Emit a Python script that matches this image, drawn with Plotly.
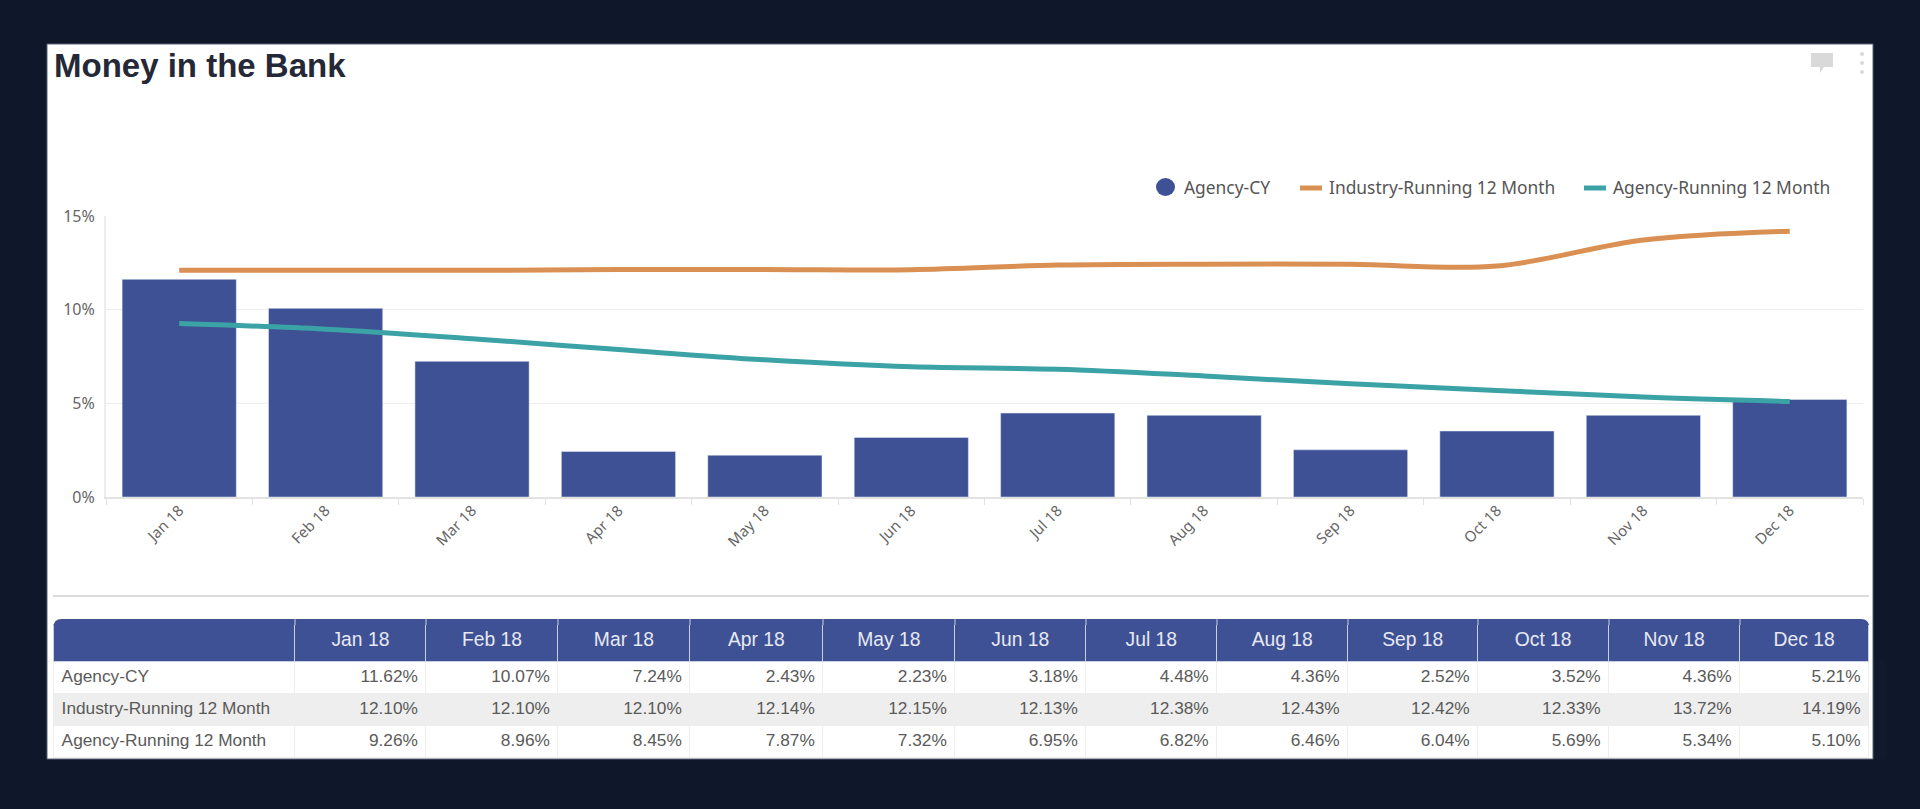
import plotly.graph_objects as go

W, H = 1920, 809
months = ["Jan 18", "Feb 18", "Mar 18", "Apr 18", "May 18", "Jun 18",
          "Jul 18", "Aug 18", "Sep 18", "Oct 18", "Nov 18", "Dec 18"]
agency_cy = [11.62, 10.07, 7.24, 2.43, 2.23, 3.18, 4.48, 4.36, 2.52, 3.52, 4.36, 5.21]
industry_r12 = [12.10, 12.10, 12.10, 12.14, 12.15, 12.13, 12.38, 12.43, 12.42, 12.33, 13.72, 14.19]
agency_r12 = [9.26, 8.96, 8.45, 7.87, 7.32, 6.95, 6.82, 6.46, 6.04, 5.69, 5.34, 5.10]
series_names = ["Agency-CY", "Industry-Running 12 Month", "Agency-Running 12 Month"]
y_ticks = [0, 5, 10, 15]

BLUE, ORANGE, TEAL = "#3F5195", "#DB9053", "#3BA2A6"
BG = "#0F172A"
HEADER_LINE = "#C9CEE0"

def fx(p): return p / W
def fy(p): return 1 - p / H

fig = go.Figure()
fig.add_trace(go.Bar(x=months, y=agency_cy, name=series_names[0], marker_color=BLUE, showlegend=False))
fig.add_trace(go.Scatter(x=months, y=industry_r12, name=series_names[1], mode="lines", showlegend=False,
                         line=dict(color=ORANGE, width=5, shape="spline", smoothing=1.0)))
fig.add_trace(go.Scatter(x=months, y=agency_r12, name=series_names[2], mode="lines", showlegend=False,
                         line=dict(color=TEAL, width=5, shape="spline", smoothing=1.0)))

def fmt(vals): return [f"{v:.2f}%" for v in vals]
col_vals = [series_names] + [
    [fmt(agency_cy)[i], fmt(industry_r12)[i], fmt(agency_r12)[i]] for i in range(12)]
row_fill = ["#FFFFFF", "#EEEEEE", "#FFFFFF"]
TL, TR, TT, BAND = 53.6, 1869, 619, 5
col_widths = [241.4, 131, 132, 132, 133, 132, 131, 131, 131, 130, 131, 131, 129]
fig.add_trace(go.Table(
    domain=dict(x=[fx(TL), fx(TR)], y=[fy(759), fy(TT + BAND)]),
    columnwidth=col_widths,
    header=dict(values=[""] + months, height=37, align="center", fill_color=BLUE,
                line=dict(color=HEADER_LINE, width=1),
                font=dict(family="Liberation Sans", size=19.3, color="#E6E9F2")),
    cells=dict(values=col_vals, height=32, align=["left"] + ["right"] * 12,
               fill_color=[row_fill] * 13,
               line=dict(color="#EEEEEE", width=1),
               font=dict(family="Liberation Sans", size=17.3, color="#5A5A5A")),
))

def paper(**kw):
    return dict(xref="paper", yref="paper", **kw)

shapes = [
    paper(type="rect", x0=fx(47), x1=fx(1873), y0=fy(759), y1=fy(44),
          fillcolor="#FFFFFF", line=dict(color="#5A6272", width=1), layer="below"),
    paper(type="line", x0=fx(53), x1=fx(1869), y0=fy(596), y1=fy(596),
          line=dict(color="#DDDDDD", width=2), layer="below"),
    # comment icon
    paper(type="path", fillcolor="#D9D9D9", line=dict(width=0),
          path=f"M{fx(1811)},{fy(53)} L{fx(1833)},{fy(53)} L{fx(1833)},{fy(67)} L{fx(1824)},{fy(67)} "
               f"L{fx(1820)},{fy(73)} L{fx(1820)},{fy(67)} L{fx(1811)},{fy(67)} Z"),
    # header top band with rounded corners
    paper(type="path", fillcolor=BLUE, line=dict(width=0),
          path=f"M{fx(TL)},{fy(TT + BAND + 1)} L{fx(TL)},{fy(TT + 8)} Q{fx(TL)},{fy(TT)} {fx(TL + 8)},{fy(TT)} "
               f"L{fx(TR - 8)},{fy(TT)} Q{fx(TR)},{fy(TT)} {fx(TR)},{fy(TT + 8)} L{fx(TR)},{fy(TT + BAND + 1)} Z"),
]
edge = TL
for w in col_widths[:-1]:
    edge += w * (TR - TL) / sum(col_widths)
    shapes.append(paper(type="line", x0=fx(edge), x1=fx(edge), y0=fy(TT), y1=fy(TT + BAND + 1),
                        line=dict(color=HEADER_LINE, width=1)))
for cy in (54, 63, 72):
    shapes.append(paper(type="circle", fillcolor="#D9D9D9", line=dict(width=0),
                        x0=fx(1860), x1=fx(1864), y0=fy(cy + 2), y1=fy(cy - 2)))

# legend row
LY = 187
shapes.append(paper(type="circle", fillcolor=BLUE, line=dict(width=0),
                    x0=fx(1156), x1=fx(1175), y0=fy(LY + 9), y1=fy(LY - 9)))
shapes.append(paper(type="line", x0=fx(1300), x1=fx(1322), y0=fy(LY + 1), y1=fy(LY + 1),
                    line=dict(color=ORANGE, width=5)))
shapes.append(paper(type="line", x0=fx(1584), x1=fx(1606), y0=fy(LY + 1), y1=fy(LY + 1),
                    line=dict(color=TEAL, width=5)))
annotations = [
    dict(xref="paper", yref="paper", x=fx(lx), y=fy(LY), xanchor="left", yanchor="middle",
         text=name, showarrow=False, font=dict(family="Noto Sans", size=17.4, color="#555555"))
    for lx, name in zip((1182, 1327, 1611), series_names)
]

fig.update_layout(
    width=W, height=H, autosize=False,
    margin=dict(l=0, r=0, t=0, b=0, autoexpand=False),
    paper_bgcolor=BG, plot_bgcolor="rgba(0,0,0,0)", bargap=0.22,
    shapes=shapes, annotations=annotations, showlegend=False,
    title=dict(text="<b>Money in the Bank</b>", x=fx(54), xanchor="left", y=fy(65), yanchor="middle",
               font=dict(family="Liberation Sans", size=33, color="#252836")),
    xaxis=dict(domain=[fx(106), fx(1863)], categoryorder="array", categoryarray=months,
               tickmode="array", tickvals=months, ticktext=months, range=[-0.5, 11.5],
               tickangle=-45, ticks="outside", ticklen=6, tickcolor="#E2E2E2", tickson="boundaries",
               showline=True, linecolor="#E2E2E2", linewidth=2, showgrid=False, anchor="y",
               ticklabelstandoff=-3,
               tickfont=dict(family="Noto Sans", size=15, color="#666666")),
    yaxis=dict(domain=[fy(497), fy(216)], range=[0, 15], tickvals=y_ticks,
               ticktext=[f"{t}%" for t in y_ticks], ticks="", showline=True, linecolor="#EDEDED",
               linewidth=2, gridcolor="#EEEEEE", gridwidth=1, zeroline=False, anchor="x",
               ticklabelstandoff=6,
               tickfont=dict(family="Noto Sans", size=16, color="#666666")),
)

fig.write_html("out.html", config={"displayModeBar": False}, post_script=
    "document.body.style.margin='0';document.body.style.overflow='hidden';"
    f"document.body.style.background='{BG}';")
